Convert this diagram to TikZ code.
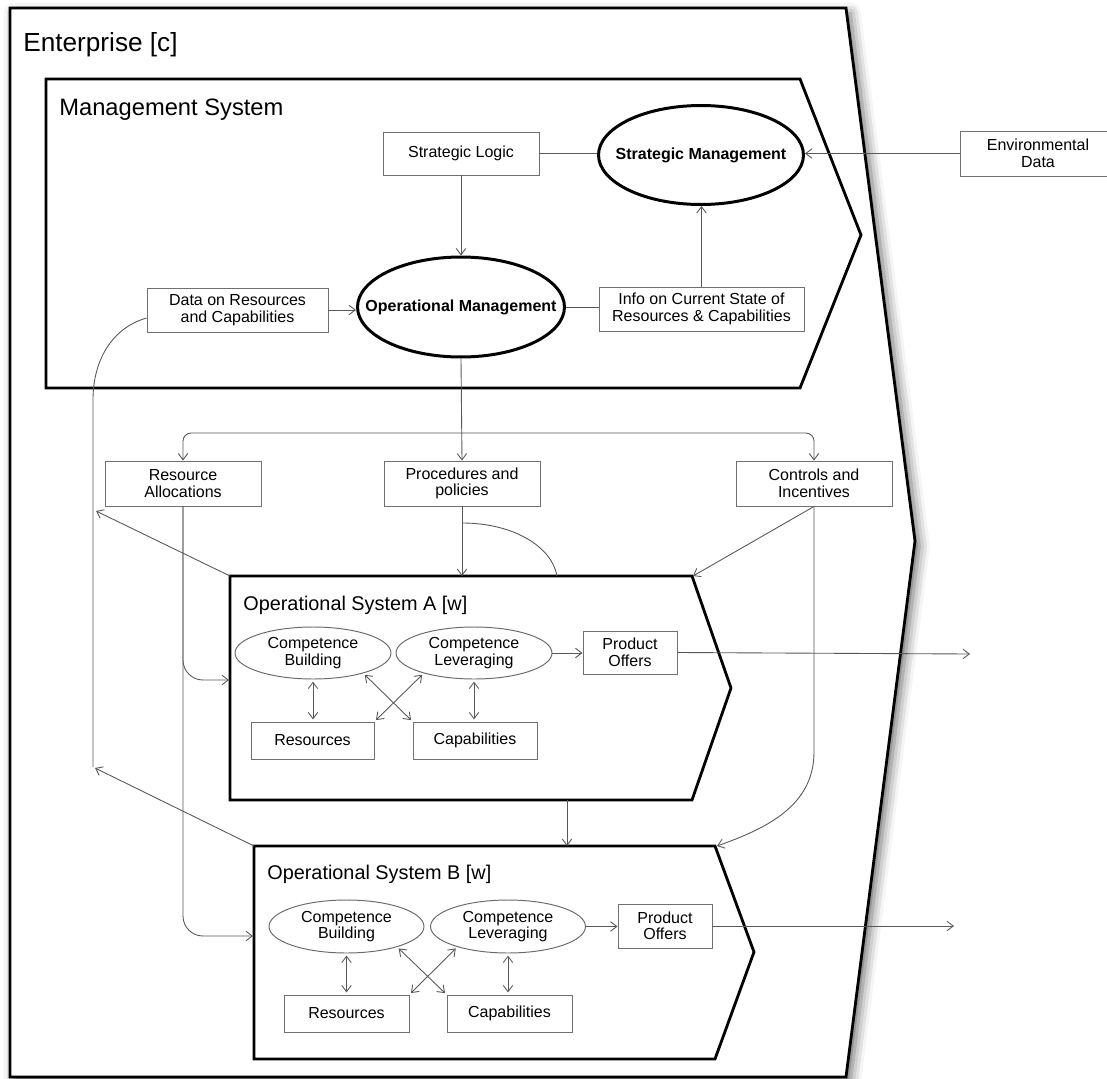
\documentclass[tikz,border=0pt]{standalone}
\usepackage{fontspec}
\setmainfont{Liberation Sans}
\usetikzlibrary{arrows.meta,shapes.geometric,shadows.blur,calc}
\definecolor{boxgray}{HTML}{707070}
\definecolor{linegray}{HTML}{585858}
\definecolor{ellgray}{HTML}{6A6A6A}
\begin{document}
\begin{tikzpicture}[x=0.02cm,y=-0.02cm,
  txt/.style={font=\fontsize{9.1}{9.4}\selectfont, align=center},
  boldtxt/.style={font=\fontsize{9.1}{9.4}\selectfont\bfseries, inner sep=0pt},
  box/.style={txt, rectangle, draw=boxgray, line width=0.55pt, inner sep=1pt},
  smallell/.style={txt, ellipse, draw=ellgray, line width=0.55pt, inner sep=1pt,
                   minimum width=3.12cm, minimum height=1.04cm},
  bigell/.style={ellipse, draw=black, line width=1.7pt, inner sep=0pt},
  outline/.style={draw=black, line width=1.6pt, line join=miter},
  tip/.tip={Straight Barb[length=3.6pt,width=5.4pt]},
  ln/.style={draw=linegray, line width=0.5pt},
  arr/.style={ln, -tip},
  biarr/.style={ln, tip-tip, shorten <=1.2pt, shorten >=1.2pt},
  title/.style={anchor=base west, inner sep=0pt}
]
\useasboundingbox (0,0) rectangle (1107,1079);

% outer enterprise boundary with its soft shadow
\path[outline, fill=white,
  blur shadow={shadow xshift=2.5pt, shadow yshift=-3pt,
               shadow blur radius=6pt, shadow opacity=60}]
  (10,8) -- (846,8) -- (915,541) -- (846,1077) -- (10,1077) -- cycle;

% management system and the two operational systems
\draw[outline] (46,79) -- (800,79) -- (861,235) -- (800,388) -- (46,388) -- cycle;
\draw[outline] (230,576) -- (692,576) -- (731,688) -- (692,800) -- (230,800) -- cycle;
\draw[outline] (254,846) -- (715,846) -- (754,952) -- (715,1059) -- (254,1059) -- cycle;

% titles
\node[title, font=\fontsize{14.9}{16}\selectfont] (entlbl) at (23,51) {Enterprise [c]};
\node[title, font=\fontsize{13.5}{15}\selectfont] (mslbl) at (59,115) {Management System};
\node[title, font=\fontsize{11.3}{13}\selectfont] (oalbl) at (243,610) {Operational System A [w]};
\node[title, font=\fontsize{11.3}{13}\selectfont] (oblbl) at (267,879) {Operational System B [w]};

% management level
\node[box, minimum width=3.12cm, minimum height=0.86cm] (sl) at (461,153.5) {Strategic Logic};
\node[bigell, minimum width=4.1cm, minimum height=1.98cm,
      label={[boldtxt]center:Strategic Management}] (sm) at (701,155) {};
\node[bigell, minimum width=4.14cm, minimum height=2.0cm,
      label={[boldtxt]center:Operational Management}] (om) at (461,307) {};
\node[box, minimum width=4.1cm, minimum height=0.88cm] (info) at (701.5,309)
  {Info on Current State of\\Resources \& Capabilities};
\node[box, minimum width=3.62cm, minimum height=0.88cm] (data) at (237.5,310)
  {Data on Resources\\and Capabilities};
\node[box, minimum width=3.12cm, minimum height=0.9cm] (env) at (1038,153.5)
  {Environmental\\Data};

% directives
\node[box, minimum width=3.12cm, minimum height=0.9cm] (ra) at (183,483.5) {Resource\\Allocations};
\node[box, minimum width=3.12cm, minimum height=0.9cm] (pp) at (462,483.5) {Procedures and\\policies};
\node[box, minimum width=3.12cm, minimum height=0.9cm] (ci) at (814,483.5) {Controls and\\Incentives};

% operational system A
\node[smallell] (cbA) at (313,653) {Competence\\Building};
\node[smallell] (clA) at (474,653) {Competence\\Leveraging};
\node[box, minimum width=1.88cm, minimum height=0.86cm] (poA) at (630,652.5) {Product\\Offers};
\node[box, minimum width=2.46cm, minimum height=0.74cm] (resA) at (312.5,740.5) {Resources};
\node[box, minimum width=2.48cm, minimum height=0.74cm] (capA) at (475,740.5) {Capabilities};

% operational system B
\node[smallell, minimum width=3.1cm, minimum height=1.06cm] (cbB) at (346.5,926.5) {Competence\\Building};
\node[smallell, minimum width=3.1cm, minimum height=1.06cm] (clB) at (508,926.5) {Competence\\Leveraging};
\node[box, minimum width=1.88cm, minimum height=0.88cm] (poB) at (665,926) {Product\\Offers};
\node[box, minimum width=2.5cm, minimum height=0.74cm] (resB) at (346.5,1013.5) {Resources};
\node[box, minimum width=2.5cm, minimum height=0.74cm] (capB) at (509.5,1013.5) {Capabilities};

% attachment points on the system outlines
\coordinate (opAnw) at (230,576);
\coordinate (opAne) at (693,576);
\coordinate (opAtop) at (462,576);
\coordinate (opAarc) at (557,576);
\coordinate (opAin) at (229,680);
\coordinate (opAbot) at (567,800);
\coordinate (opBtop) at (567,846);
\coordinate (opBnw) at (254,846);
\coordinate (opBne) at (717,846);
\coordinate (opBin) at (253,936);
\coordinate (fbA) at (96,511);
\coordinate (fbB) at (95,768);
\coordinate (fbEnd) at (93,767);
\coordinate (split) at (462,433);
\coordinate (arcS) at (462,523);
\coordinate (outA) at (970,654);
\coordinate (outB) at (954,926);

% management connectors
\draw[ln] (sl.east) -- (sl.east -| sm.west);
\draw[arr] (sl.south) -- (sl.south |- om.north);
\draw[arr] (info.north) -- (info.north |- sm.south);
\draw[ln] (om.east) -- (om.east -| info.west);
\draw[arr] (data.east) -- (data.east -| om.west);
\draw[arr] (env.west) -- (env.west -| sm.east);

% feedback into the resource data
\draw[ln] ($(data.west)+(0,8)$) .. controls (112,328) and (93,360) .. (93,400) -- (fbEnd);
\draw[arr] (opAnw) -- (fbA);
\draw[arr] (opBnw) -- (fbB);

% directives flowing down
\draw[arr] (om.south) -- (pp.north);
\draw[arr, rounded corners=0.16cm] (split) -| (ra.north);
\draw[arr, rounded corners=0.16cm] (split) -| (ci.north);
\draw[arr, rounded corners=0.4cm] (ra.south) |- (opAin);
\draw[arr, rounded corners=0.4cm] (ra.south) |- (opBin);
\draw[arr] (pp.south) -- (opAtop);
\draw[ln] (arcS) .. controls (514,523) and (552,547) .. (opAarc);
\draw[arr] (opAbot) -- (opBtop);
\draw[arr] (ci.south) -- (opAne);
\draw[arr] (ci.south) -- (814,752) .. controls (814,805) and (768,828) .. (opBne);

% outputs
\draw[arr] (poA.east) -- (outA);
\draw[arr] (poB.east) -- (outB);

% inside operational system A
\draw[arr] (clA.east) -- (clA.east -| poA.west);
\draw[biarr] (cbA.south) -- (cbA.south |- resA.north);
\draw[biarr] (clA.south) -- (clA.south |- capA.north);
\draw[biarr] (cbA.-22) -- (capA.north west);
\draw[biarr] (clA.202) -- (resA.north east);

% inside operational system B
\draw[arr] (clB.east) -- (clB.east -| poB.west);
\draw[biarr] (cbB.south) -- (cbB.south |- resB.north);
\draw[biarr] (clB.south) -- (clB.south |- capB.north);
\draw[biarr] (cbB.-22) -- (capB.north west);
\draw[biarr] (clB.202) -- (resB.north east);
\end{tikzpicture}
\end{document}
